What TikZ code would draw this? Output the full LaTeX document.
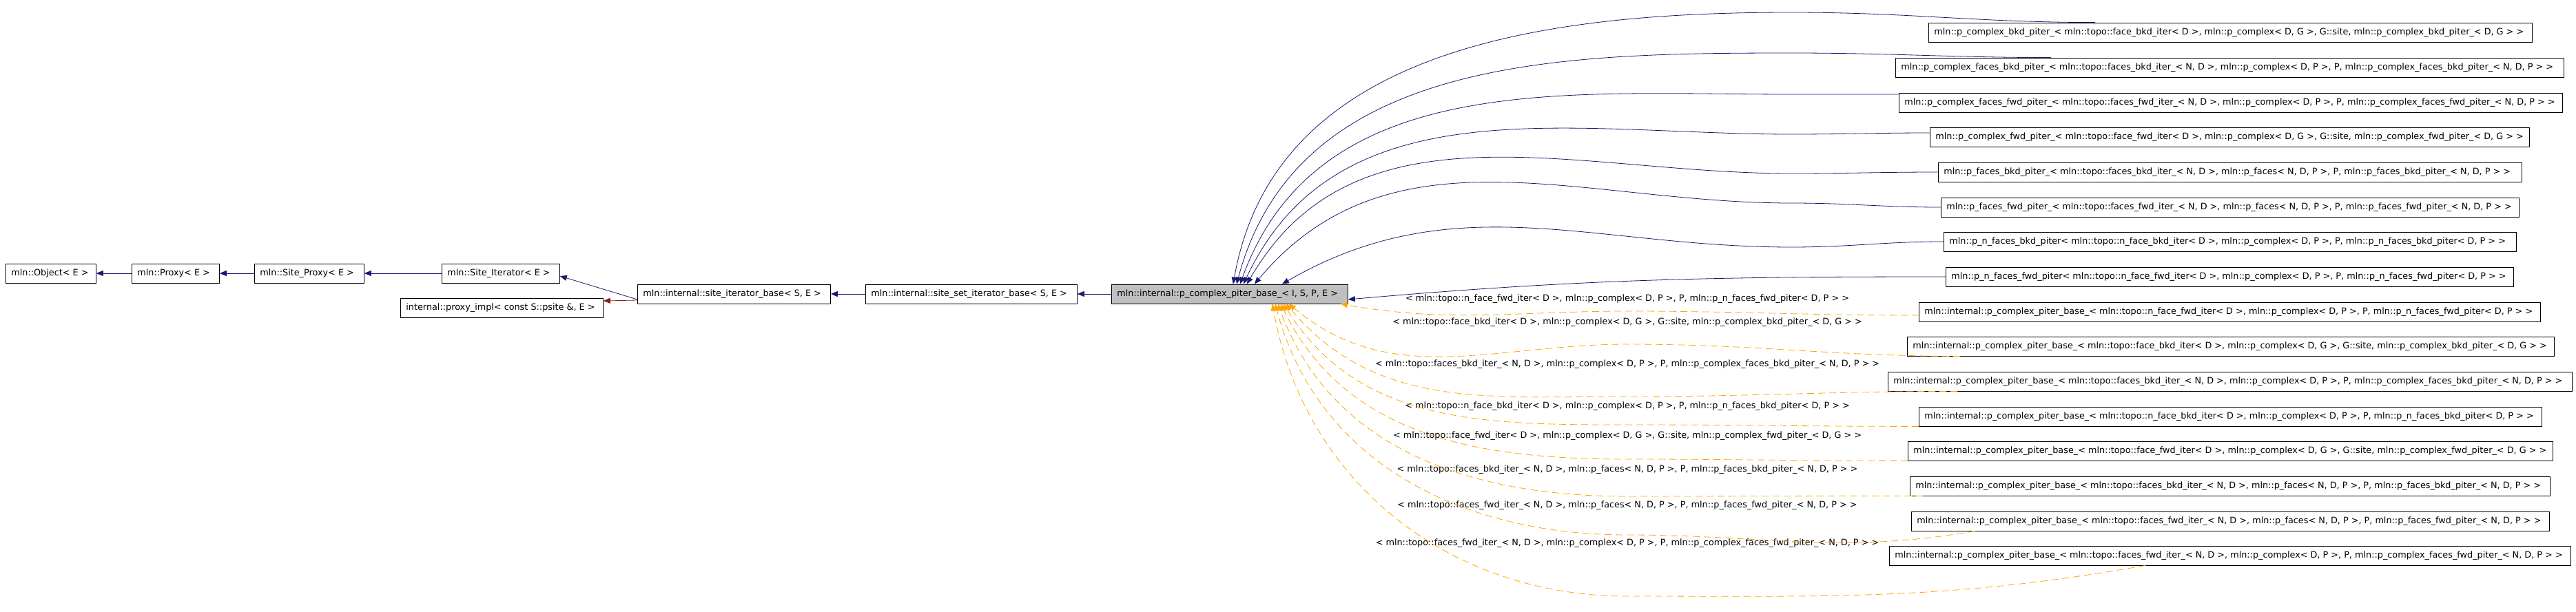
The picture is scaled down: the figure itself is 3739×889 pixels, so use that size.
\documentclass[tikz,border=0pt]{standalone}
\usepackage{fontspec}
\usepackage{tikz}
\usetikzlibrary{arrows.meta}
\newfontfamily\dxfont{DejaVu Sans}
\definecolor{edgeblue}{HTML}{191970}
\definecolor{edgered}{HTML}{8B1A1A}
\definecolor{edgeorange}{HTML}{FFA500}
\definecolor{mainfill}{HTML}{BFBFBF}
\newlength\px
\setlength\px{0.5pt}
% fixed width box text, may run over the frame
\newcommand{\boxtext}[2]{\makebox[\dimexpr#1\px-8pt\relax][l]{#2}}
% template arguments
\newcommand{\argnff}{< mln::topo::n\_face\_fwd\_iter< D >, mln::p\_complex< D, P >, P, mln::p\_n\_faces\_fwd\_piter< D, P > >}
\newcommand{\argnfb}{< mln::topo::n\_face\_bkd\_iter< D >, mln::p\_complex< D, P >, P, mln::p\_n\_faces\_bkd\_piter< D, P > >}
\newcommand{\argfb}{< mln::topo::face\_bkd\_iter< D >, mln::p\_complex< D, G >, G::site, mln::p\_complex\_bkd\_piter\_< D, G > >}
\newcommand{\argff}{< mln::topo::face\_fwd\_iter< D >, mln::p\_complex< D, G >, G::site, mln::p\_complex\_fwd\_piter\_< D, G > >}
\newcommand{\argcfb}{< mln::topo::faces\_bkd\_iter\_< N, D >, mln::p\_complex< D, P >, P, mln::p\_complex\_faces\_bkd\_piter\_< N, D, P > >}
\newcommand{\argcff}{< mln::topo::faces\_fwd\_iter\_< N, D >, mln::p\_complex< D, P >, P, mln::p\_complex\_faces\_fwd\_piter\_< N, D, P > >}
\newcommand{\argpfb}{< mln::topo::faces\_bkd\_iter\_< N, D >, mln::p\_faces< N, D, P >, P, mln::p\_faces\_bkd\_piter\_< N, D, P > >}
\newcommand{\argpff}{< mln::topo::faces\_fwd\_iter\_< N, D >, mln::p\_faces< N, D, P >, P, mln::p\_faces\_fwd\_piter\_< N, D, P > >}
\newcommand{\pcbase}{mln::internal::p\_complex\_piter\_base\_}

\begin{document}
\begin{tikzpicture}[x=0.5pt, y=-0.5pt,
    cls/.style={draw, anchor=west, inner xsep=4pt, inner ysep=0pt, minimum height=14pt, font=\dxfont\fontsize{6.4}{7.5}\selectfont},
    lbl/.style={inner sep=1pt, font=\dxfont\fontsize{6.4}{7.5}\selectfont},
    inh/.style={draw=edgeblue, -{Triangle[length=5pt,width=4pt]}, edgeblue},
    priv/.style={draw=edgered, -{Triangle[length=5pt,width=4pt]}, edgered},
    inst/.style={draw=edgeorange, dash pattern=on 5pt off 3pt, -{Triangle[length=5pt,width=4pt]}, edgeorange}]
    \useasboundingbox (0,0) rectangle (3739,889);

    % base classes
    \node[cls] (object) at (8,397) {\boxtext{131}{mln::Object< E >}};
    \node[cls] (proxy) at (191,397) {\boxtext{127}{mln::Proxy< E >}};
    \node[cls] (siteproxy) at (369,397) {\boxtext{159}{mln::Site\_Proxy< E >}};
    \node[cls] (siteiter) at (641,397) {\boxtext{171}{mln::Site\_Iterator< E >}};
    \node[cls] (proxyimpl) at (581,447) {\boxtext{294}{internal::proxy\_impl< const S::psite \&, E >}};
    \node[cls] (sitebase) at (925,427) {\boxtext{280}{mln::internal::site\_iterator\_base< S, E >}};
    \node[cls] (setbase) at (1256,427) {\boxtext{307}{mln::internal::site\_set\_iterator\_base< S, E >}};
    \node[cls, fill=mainfill] (main) at (1613,427) {\boxtext{343}{mln::internal::p\_complex\_piter\_base\_< I, S, P, E >}};

    % derived classes
    \node[cls] (r1) at (2799,47) {\boxtext{876}{mln::p\_complex\_bkd\_piter\_< mln::topo::face\_bkd\_iter< D >, mln::p\_complex< D, G >, G::site, mln::p\_complex\_bkd\_piter\_< D, G > >}};
    \node[cls] (r2) at (2751,98) {\boxtext{970}{mln::p\_complex\_faces\_bkd\_piter\_< mln::topo::faces\_bkd\_iter\_< N, D >, mln::p\_complex< D, P >, P, mln::p\_complex\_faces\_bkd\_piter\_< N, D, P > >}};
    \node[cls] (r3) at (2756,149) {\boxtext{963}{mln::p\_complex\_faces\_fwd\_piter\_< mln::topo::faces\_fwd\_iter\_< N, D >, mln::p\_complex< D, P >, P, mln::p\_complex\_faces\_fwd\_piter\_< N, D, P > >}};
    \node[cls] (r4) at (2801,199) {\boxtext{870}{mln::p\_complex\_fwd\_piter\_< mln::topo::face\_fwd\_iter< D >, mln::p\_complex< D, G >, G::site, mln::p\_complex\_fwd\_piter\_< D, G > >}};
    \node[cls] (r5) at (2813,250) {\boxtext{847}{mln::p\_faces\_bkd\_piter\_< mln::topo::faces\_bkd\_iter\_< N, D >, mln::p\_faces< N, D, P >, P, mln::p\_faces\_bkd\_piter\_< N, D, P > >}};
    \node[cls] (r6) at (2817,301) {\boxtext{839}{mln::p\_faces\_fwd\_piter\_< mln::topo::faces\_fwd\_iter\_< N, D >, mln::p\_faces< N, D, P >, P, mln::p\_faces\_fwd\_piter\_< N, D, P > >}};
    \node[cls] (r7) at (2821,351) {\boxtext{831}{mln::p\_n\_faces\_bkd\_piter< mln::topo::n\_face\_bkd\_iter< D >, mln::p\_complex< D, P >, P, mln::p\_n\_faces\_bkd\_piter< D, P > >}};
    \node[cls] (r8) at (2824,402) {\boxtext{824}{mln::p\_n\_faces\_fwd\_piter< mln::topo::n\_face\_fwd\_iter< D >, mln::p\_complex< D, P >, P, mln::p\_n\_faces\_fwd\_piter< D, P > >}};
    \node[cls] (r9) at (2785,453) {\boxtext{902}{\pcbase\argnff}};
    \node[cls] (r10) at (2768,503) {\boxtext{939}{\pcbase\argfb}};
    \node[cls] (r11) at (2740,554) {\boxtext{993}{\pcbase\argcfb}};
    \node[cls] (r12) at (2785,605) {\boxtext{904}{\pcbase\argnfb}};
    \node[cls] (r13) at (2769,655) {\boxtext{936}{\pcbase\argff}};
    \node[cls] (r14) at (2772,706) {\boxtext{929}{\pcbase\argpfb}};
    \node[cls] (r15) at (2774,757) {\boxtext{926}{\pcbase\argpff}};
    \node[cls] (r16) at (2742,807) {\boxtext{989}{\pcbase\argcff}};

    % template labels
    \node[lbl] (l9) at (2362,434) {\argnff};
    \node[lbl] (l10) at (2362,468) {\argfb};
    \node[lbl] (l11) at (2362,529) {\argcfb};
    \node[lbl] (l12) at (2362,590) {\argnfb};
    \node[lbl] (l13) at (2362,633) {\argff};
    \node[lbl] (l14) at (2362,682) {\argpfb};
    \node[lbl] (l15) at (2362,734) {\argpff};
    \node[lbl] (l16) at (2362,789) {\argcff};

    % left chain
    \draw[inh] (proxy) -- (object);
    \draw[inh] (siteproxy) -- (proxy);
    \draw[inh] (siteiter) -- (siteproxy);
    \draw[inh] ([yshift=-4pt]sitebase.west) -- ([yshift=-2pt]siteiter.east);
    \draw[priv] ([yshift=-4.5pt]sitebase.west) -- ([yshift=5pt]proxyimpl.east);
    \draw[inh] (setbase) -- (sitebase);
    \draw[inh] (main) -- (setbase);

    % inheritance into main
    \draw[inh] ([xshift=121pt]r1.north west) to[out=180,in=0] (2600,18) to[out=180,in=80] ([xshift=2.5pt]main.north);
    \draw[inh] ([xshift=113pt]r2.north west) to[out=180,in=0] (2600,77) to[out=180,in=75] ([xshift=5pt]main.north);
    \draw[inh] ([yshift=6pt]r3.west) to[out=180,in=0] (2600,137) to[out=180,in=70] ([xshift=7.5pt]main.north);
    \draw[inh] ([yshift=3pt]r4.west) to[out=180,in=0] (2600,195) to[out=180,in=65] ([xshift=10pt]main.north);
    \draw[inh] (r5.west) to[out=180,in=0] (2600,252) to[out=180,in=60] ([xshift=12.5pt]main.north);
    \draw[inh] (r6.west) to[out=180,in=0] (2600,295) to[out=180,in=50] ([xshift=18pt]main.north);
    \draw[inh] (r7.west) to[out=180,in=0] (2600,359) to[out=180,in=30] ([xshift=38pt]main.north);
    \draw[inh] (r8.west) to[out=180,in=5] ([yshift=-4pt]main.east);

    % template instances into main
    \draw[inst] ([yshift=-2.5pt]r9.west) to[out=180,in=0] (2362,452) to[out=180,in=-10] ([xshift=-5.5pt]main.south east);
    \draw[inst] ([xshift=38.5pt]r10.south west) to[out=180,in=0] (2362,500) to[out=180,in=-40] ([xshift=43pt]main.south);
    \draw[inst] ([xshift=50.5pt]r11.south west) to[out=180,in=0] (2362,576) to[out=180,in=-50] ([xshift=41pt]main.south);
    \draw[inst] (r12.south west) to[out=180,in=0] (2362,617) to[out=180,in=-58] ([xshift=39pt]main.south);
    \draw[inst] (r13.south west) to[out=180,in=0] (2362,667) to[out=180,in=-64] ([xshift=37pt]main.south);
    \draw[inst] ([xshift=9.5pt]r14.south west) to[out=180,in=0] (2362,721) to[out=180,in=-70] ([xshift=35pt]main.south);
    \draw[inst] ([xshift=46pt]r15.south west) to[out=190,in=0] (2362,777) to[out=180,in=-75] ([xshift=33pt]main.south);
    \draw[inst] ([xshift=186pt]r16.south west) to[out=190,in=0] (2362,866) to[out=180,in=-80] ([xshift=31pt]main.south);
\end{tikzpicture}
\end{document}
